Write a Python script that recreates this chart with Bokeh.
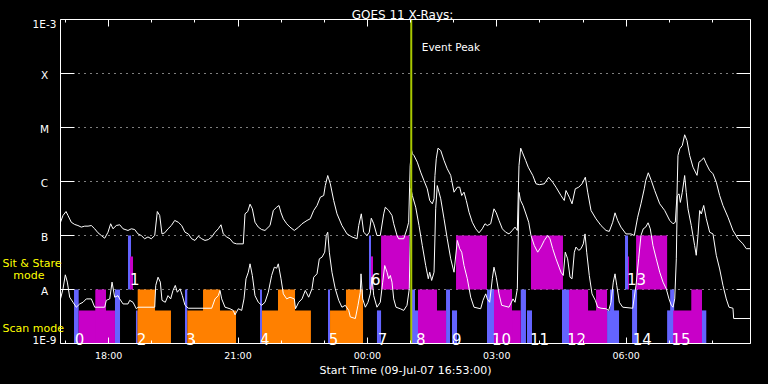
import datetime as dt
from bokeh.plotting import figure
from bokeh.models import (Range1d, FixedTicker, DatetimeAxis, LogAxis, Label,
                          DatetimeTickFormatter, ColumnDataSource)
from bokeh.core.properties import value
from bokeh.embed import file_html
from bokeh.resources import INLINE

START = dt.datetime(2007, 7, 9, 16, 53)
DURATION_MIN = 960
EVENT_MIN = 488

# GOES 11 long channel (1-8 A): minutes since start, flux W/m^2
long_min = [0, 3.5, 7.7, 10.4, 15.0, 19.8, 24.3, 28.9, 33.7, 38.3, 42.9, 47.6, 52.2, 56.8, 61.5,
            66.1, 69.8, 73.0, 77.6, 82.4, 87.0, 93.9, 98.5, 103.2, 107.8, 112.4, 117.1, 121.7,
            126.3, 131.1, 134.7, 138.0, 141.2, 145.0, 149.6, 154.2, 158.9, 163.9, 168.6, 173.2,
            177.8, 182.5, 187.1, 191.7, 196.5, 201.0, 205.6, 210.4, 215.0, 219.5, 223.3, 226.5,
            231.2, 235.8, 240.4, 245.1, 254.3, 256.7, 260.5, 263.7, 266.9, 270.6, 275.2, 279.9,
            284.5, 291.5, 296.1, 300.8, 304.0, 306.8, 310.0, 314.7, 319.3, 325.3, 331.4, 336.0,
            343.0, 347.5, 352.3, 356.9, 361.5, 366.2, 368.4, 371.8, 375.4, 380.1, 384.7, 391.6,
            398.6, 405.6, 412.5, 414.9, 418.5, 421.8, 426.4, 429.6, 432.4, 435.8, 440.3, 444.9,
            449.7, 451.9, 456.6, 461.2, 463.6, 468.2, 470.5, 477.5, 482.1, 484.4, 486.5, 488.5,
            489.5, 491.8, 496.4, 501.1, 505.7, 510.3, 513.7, 517.3, 519.7, 521.0, 522.8, 525.2,
            529.0, 533.6, 538.1, 542.9, 547.5, 552.1, 555.4, 558.2, 561.4, 564.6, 568.4, 572.9,
            577.7, 582.3, 586.8, 590.6, 593.8, 598.5, 603.1, 606.3, 610.1, 614.7, 619.4, 624.0,
            628.6, 632.4, 635.6, 637.9, 640.3, 642.5, 647.2, 650.8, 657.0, 661.6, 666.2, 673.1,
            679.2, 684.8, 689.4, 696.3, 700.9, 703.3, 707.9, 711.7, 716.2, 721.0, 725.6, 730.2,
            733.5, 738.1, 745.0, 752.0, 759.0, 763.5, 768.3, 771.5, 775.2, 779.8, 786.8, 793.7,
            798.3, 803.0, 807.6, 812.2, 814.2, 817.8, 822.0, 826.7, 833.7, 840.6, 847.6, 852.2,
            855.4, 857.7, 859.1, 861.5, 865.1, 868.4, 871.6, 875.4, 880.0, 885.6, 888.3, 891.5,
            894.9, 898.5, 903.2, 907.8, 912.4, 917.1, 921.7, 928.7, 935.6, 942.6, 949.5, 954.1,
            960]
long_flux = [1.76e-7, 2.35e-7, 2.78e-7, 2.35e-7, 1.76e-7, 1.60e-7, 1.53e-7, 1.43e-7, 1.49e-7,
             1.49e-7, 1.53e-7, 1.33e-7, 1.12e-7, 1.0e-7, 8.9e-8, 1.15e-7, 1.65e-7, 1.33e-7,
             1.53e-7, 1.58e-7, 1.33e-7, 1.24e-7, 1.33e-7, 1.29e-7, 1.07e-7, 1.0e-7, 8.7e-8,
             9.4e-8, 8.7e-8, 1.0e-7, 2.78e-7, 2.35e-7, 1.07e-7, 1.12e-7, 1.33e-7, 1.53e-7,
             1.90e-7, 1.76e-7, 1.53e-7, 1.15e-7, 1.07e-7, 8.7e-8, 8.1e-8, 9.7e-8, 8.7e-8, 8.1e-8,
             8.4e-8, 9.4e-8, 1.15e-7, 1.33e-7, 1.58e-7, 1.07e-7, 9.4e-8, 8.7e-8, 7.3e-8, 7.0e-8,
             7.0e-8, 2.52e-7, 2.78e-7, 3.80e-7, 3.12e-7, 1.76e-7, 1.43e-7, 1.29e-7, 1.24e-7,
             1.53e-7, 2.91e-7, 3.34e-7, 3.59e-7, 2.63e-7, 2.04e-7, 1.65e-7, 1.43e-7, 1.24e-7,
             1.43e-7, 1.65e-7, 1.90e-7, 2.04e-7, 2.91e-7, 3.59e-7, 5.12e-7, 5.50e-7, 8.43e-7,
             1.29e-6, 9.06e-7, 4.45e-7, 2.52e-7, 1.53e-7, 1.07e-7, 9.4e-8, 8.7e-8, 1.53e-7,
             2.52e-7, 1.15e-7, 1.0e-7, 1.15e-7, 2.09e-7, 1.65e-7, 1.0e-7, 1.0e-7, 2.52e-7,
             3.34e-7, 2.91e-7, 2.35e-7, 1.65e-7, 1.0e-7, 8.7e-8, 8.7e-8, 1.33e-7, 1.76e-7,
             1.98e-6, 3.75e-6, 3.26e-6, 3.03e-6, 2.28e-6, 1.49e-6, 1.04e-6, 7.33e-7, 4.45e-7,
             3.86e-7, 4.78e-7, 1.30e-6, 2.63e-6, 4.14e-6, 3.75e-6, 2.45e-6, 1.72e-6, 1.30e-6,
             6.34e-7, 7.84e-7, 7.84e-7, 5.50e-7, 6.34e-7, 4.45e-7, 2.70e-7, 1.76e-7, 1.33e-7,
             1.12e-7, 1.33e-7, 1.65e-7, 1.53e-7, 1.65e-7, 3.12e-7, 2.63e-7, 1.90e-7, 1.33e-7,
             1.15e-7, 1.07e-7, 1.24e-7, 1.43e-7, 1.24e-7, 1.98e-6, 4.14e-6, 3.49e-6, 2.45e-6,
             1.84e-6, 1.30e-6, 9.06e-7, 8.73e-7, 9.06e-7, 1.20e-6, 9.7e-7, 7.84e-7, 5.50e-7,
             4.45e-7, 6.81e-7, 5.12e-7, 3.86e-7, 7.33e-7, 7.84e-7, 9.06e-7, 1.20e-6, 6.34e-7,
             2.91e-7, 2.04e-7, 1.53e-7, 1.24e-7, 1.19e-7, 1.76e-7, 2.63e-7, 1.90e-7, 1.43e-7,
             1.07e-7, 1.07e-7, 1.0e-7, 2.18e-7, 3.86e-7, 7.33e-7, 1.04e-6, 1.45e-6, 1.04e-6,
             6.81e-7, 3.86e-7, 2.91e-7, 1.90e-7, 1.65e-7, 1.76e-7, 5.50e-7, 3.03e-6, 4.03e-6,
             4.64e-6, 7.33e-6, 5.74e-6, 3.03e-6, 1.84e-6, 1.30e-6, 2.28e-6, 2.45e-6, 2.75e-6,
             2.13e-6, 1.60e-6, 1.39e-6, 9.7e-7, 5.50e-7, 3.59e-7, 2.18e-7, 1.24e-7, 8.7e-8,
             7.0e-8, 5.7e-8, 5.7e-8]

# GOES 11 short channel (0.5-4 A)
short_min = [0, 3.5, 6.7, 9.5, 12.8, 17.4, 22.0, 26.7, 31.3, 35.9, 42.9, 47.6, 61.5, 63.7, 68.5,
             71.7, 75.4, 80.0, 82.4, 87.0, 93.9, 96.3, 100.9, 105.5, 107.8, 131.1, 132.5, 135.7,
             138.9, 141.2, 145.8, 149.6, 153.3, 156.5, 159.7, 162.5, 166.3, 169.5, 173.2, 177.8,
             210.4, 215.0, 219.5, 221.9, 224.3, 228.9, 235.8, 240.4, 242.8, 247.4, 252.1, 255.3,
             258.1, 261.3, 263.7, 266.9, 270.6, 275.2, 279.9, 284.5, 289.1, 293.8, 297.5, 300.8,
             303.0, 306.8, 310.0, 314.7, 319.3, 325.3, 327.0, 331.4, 336.0, 340.6, 345.3, 349.9,
             352.3, 356.9, 360.1, 363.8, 367.6, 369.8, 371.8, 374.0, 377.7, 382.3, 387.1, 391.6,
             396.2, 401.0, 403.2, 410.2, 413.9, 417.1, 418.1, 420.4, 424.1, 427.8, 431.0, 433.4,
             435.8, 440.3, 444.9, 448.3, 451.1, 454.3, 456.6, 458.9, 461.2, 463.6, 466.8, 472.8,
             477.5, 482.1, 485.3, 487.5, 489.5, 494.2, 498.8, 503.4, 508.1, 511.7, 513.7, 516.4,
             519.7, 522.0, 524.2, 529.0, 533.6, 538.1, 542.9, 547.5, 552.1, 555.4, 558.2, 561.4,
             566.0, 570.7, 575.3, 584.6, 587.8, 591.6, 593.8, 597.1, 600.8, 603.1, 606.3, 610.1,
             613.8, 624.0, 629.6, 632.4, 635.6, 637.9, 640.0, 643.5, 647.6, 651.4, 654.6, 659.2,
             663.9, 668.5, 673.1, 677.8, 681.0, 684.8, 689.4, 696.3, 699.5, 702.3, 705.6, 708.9,
             711.7, 714.9, 717.2, 721.0, 724.2, 727.4, 729.8, 732.1, 735.7, 739.5, 744.1, 747.4,
             752.0, 759.0, 762.7, 765.9, 769.1, 771.5, 773.9, 777.5, 782.2, 796.1, 800.7, 804.4,
             807.6, 810.8, 814.2, 817.5, 820.6, 824.3, 828.9, 833.7, 838.3, 842.8, 846.6, 849.8,
             852.2, 854.6, 856.8, 858.2, 860.6, 862.4, 865.1, 868.4, 870.6, 873.0, 877.6, 882.3,
             884.5, 886.9, 889.3, 891.5, 894.9, 898.5, 903.2, 907.8, 912.4, 917.1, 921.7, 926.3,
             930.1, 935.6, 936.6, 960]
short_flux = [6.7e-9, 1.03e-8, 1.87e-8, 1.37e-8, 7.2e-9, 5.8e-9, 4.7e-9, 5.4e-9, 5.8e-9, 6.7e-9,
              6.7e-9, 4.7e-9, 4.7e-9, 6.3e-9, 6.7e-9, 1.37e-8, 7.2e-9, 7.7e-9, 6.7e-9, 5.4e-9,
              5.4e-9, 6.3e-9, 5.8e-9, 4.4e-9, 4.7e-9, 4.7e-9, 1.19e-8, 1.69e-8, 1.37e-8, 6.3e-9,
              5.8e-9, 7.7e-9, 6.7e-9, 9.6e-9, 1.19e-8, 8.9e-9, 1.03e-8, 7.7e-9, 5.1e-9, 4.5e-9,
              4.5e-9, 6.7e-9, 7.7e-9, 9.6e-9, 6.7e-9, 4.7e-9, 4.4e-9, 4.1e-9, 3.4e-9, 4.4e-9,
              4.1e-9, 6.7e-9, 1.58e-8, 2.09e-8, 2.99e-8, 1.82e-8, 7.7e-9, 5.8e-9, 5.1e-9, 5.8e-9,
              8.9e-9, 1.82e-8, 2.59e-8, 2.48e-8, 2.99e-8, 1.58e-8, 8.3e-9, 6.7e-9, 7.2e-9, 6.7e-9,
              4.4e-9, 5.8e-9, 6.7e-9, 9.6e-9, 7.2e-9, 1.03e-8, 1.69e-8, 1.95e-8, 3.70e-8, 3.96e-8,
              4.91e-8, 1.0e-7, 1.15e-7, 4.91e-8, 2.09e-8, 1.03e-8, 6.3e-9, 4.7e-9, 5.1e-9, 4.1e-9,
              3.1e-9, 2.9e-9, 5.1e-9, 8.9e-9, 1.95e-8, 6.7e-9, 4.7e-9, 5.8e-9, 8.3e-9, 1.69e-8,
              7.7e-9, 4.7e-9, 5.8e-9, 1.37e-8, 2.78e-8, 2.09e-8, 1.58e-8, 1.82e-8, 1.37e-8,
              6.7e-9, 4.7e-9, 4.4e-9, 4.1e-9, 5.1e-9, 1.03e-8, 7.4e-7, 5.5e-7, 3.34e-7, 1.53e-7,
              6.5e-8, 2.78e-8, 1.58e-8, 2.09e-8, 1.47e-8, 2.09e-8, 3.12e-7, 8.4e-7, 4.78e-7,
              2.04e-7, 8.7e-8, 3.70e-8, 2.09e-8, 8.1e-8, 5.7e-8, 4.91e-8, 2.78e-8, 1.58e-8,
              7.2e-9, 4.7e-9, 4.4e-9, 6.3e-9, 8.3e-9, 6.7e-9, 5.8e-9, 1.58e-8, 2.59e-8, 1.69e-8,
              8.3e-9, 5.1e-9, 4.7e-9, 6.7e-9, 5.8e-9, 1.03e-8, 6.3e-7, 4.5e-7, 3.6e-7, 2.5e-7,
              1.76e-7, 1.0e-7, 6.5e-8, 4.91e-8, 6.1e-8, 8.1e-8, 1.0e-7, 8.7e-8, 5.7e-8, 3.7e-8,
              2.09e-8, 1.82e-8, 4.91e-8, 3.7e-8, 1.69e-8, 1.58e-8, 4.91e-8, 6.1e-8, 5.3e-8,
              5.7e-8, 7.0e-8, 1.07e-7, 4.91e-8, 1.82e-8, 8.3e-9, 6.3e-9, 4.7e-9, 4.5e-9, 4.4e-9,
              4.1e-9, 5.8e-9, 1.37e-8, 1.95e-8, 1.19e-8, 5.8e-9, 4.7e-9, 4.5e-9, 1.19e-8, 3.7e-8,
              1.0e-7, 1.33e-7, 1.43e-7, 1.72e-7, 1.33e-7, 6.5e-8, 3.7e-8, 2.09e-8, 1.37e-8,
              1.03e-8, 6.7e-9, 5.1e-9, 4.7e-9, 6.7e-9, 3.7e-8, 5.5e-7, 5.9e-7, 4.1e-7, 6.3e-7,
              1.29e-6, 6.3e-7, 3.12e-7, 1.53e-7, 6.5e-8, 4.3e-8, 1.0e-7, 2.9e-7, 2.5e-7, 3.6e-7,
              2.04e-7, 1.15e-7, 1.07e-7, 4.3e-8, 2.4e-8, 1.19e-8, 6.7e-9, 4.7e-9, 4.5e-9, 2.9e-9,
              2.9e-9]

# observation timeline blocks (minutes since start)
blk_start = [18.8, 25.3, 48.4, 75.8, 93.9, 96.7, 105.0, 107.4, 107.4, 173.2, 176.4, 198.3,
             277.6, 280.3, 302.6, 372.2, 375.0, 397.2, 429.2, 432.0, 446.0, 440.3, 487.7, 493.2,
             497.4, 497.4, 536.4, 544.7, 550.3, 593.4, 603.1, 603.1, 640.3, 649.0, 654.6, 697.7,
             707.5, 707.5, 745.1, 760.4, 764.6, 785.4, 789.6, 800.8, 795.2, 844.0, 848.2, 852.4,
             877.6, 891.5]
blk_end = [25.3, 75.8, 63.3, 82.8, 98.1, 100.9, 107.4, 153.7, 131.5, 176.4, 244.2, 221.9,
           280.3, 348.4, 326.3, 375.0, 420.9, 420.9, 432.0, 434.8, 484.9, 446.0, 493.2, 497.4,
           536.4, 523.8, 541.9, 551.7, 593.4, 603.1, 640.3, 628.2, 647.6, 656.0, 699.1, 707.5,
           760.4, 734.0, 760.4, 777.1, 770.2, 789.6, 791.0, 844.0, 802.2, 852.4, 853.8, 891.5,
           892.5, 898.5]
blk_color = ["blue", "magenta", "magenta", "blue", "blue", "magenta", "blue", "orange", "orange",
             "blue", "orange", "orange", "blue", "orange", "orange", "blue", "orange", "orange",
             "blue", "magenta", "magenta", "blue", "blue", "blue", "magenta", "magenta", "blue",
             "blue", "magenta", "blue", "magenta", "magenta", "blue", "blue", "magenta", "blue",
             "magenta", "magenta", "magenta", "blue", "blue", "blue", "magenta", "magenta", "blue",
             "blue", "blue", "magenta", "magenta", "blue"]
blk_kind = ["scan_full", "scan_low", "scan_full", "scan_full", "stare_full", "stare_low",
            "scan_low", "scan_low", "scan_full", "scan_full", "scan_low", "scan_full",
            "scan_full", "scan_low", "scan_full", "scan_full", "scan_low", "scan_full",
            "stare_full", "stare_low", "stare_full", "scan_low", "scan_full", "scan_low",
            "scan_low", "scan_full", "scan_full", "scan_low", "stare_full", "scan_full",
            "scan_low", "scan_full", "scan_full", "scan_low", "stare_full", "scan_full",
            "scan_low", "scan_full", "scan_full", "scan_low", "scan_full", "stare_full",
            "stare_low", "stare_full", "scan_full", "scan_low", "scan_full", "scan_low",
            "scan_full", "scan_low"]

obs_id = ["0", "1", "2", "3", "4", "5", "6", "7", "8", "9", "10", "11", "12", "13", "14", "15"]
obs_min = [19.8, 96.7, 106.0, 174.6, 277.6, 373.2, 432.0, 441.3, 494.6, 544.7, 600.3, 653.2,
           704.7, 788.2, 796.1, 850.0]
obs_band = ["scan", "stare", "scan", "scan", "scan", "scan", "stare", "scan", "scan", "scan",
            "scan", "scan", "scan", "stare", "scan", "scan"]

ytick_vals = [1e-9, 1e-8, 1e-7, 1e-6, 1e-5, 1e-4, 1e-3]
ytick_text = ["1E-9", "A", "B", "C", "M", "X", "1E-3"]
major_hours = ["2007-07-09 18:00", "2007-07-09 21:00", "2007-07-10 00:00",
               "2007-07-10 03:00", "2007-07-10 06:00"]

# ---- styling / layout constants ----
COLORS = {"blue": "#6464ff", "magenta": "#c800c8", "orange": "#ff8000"}
LEVELS = {"scan_full": (1e-9, 1e-8), "scan_low": (1e-9, 4.1e-9),
          "stare_full": (1e-8, 1e-7), "stare_low": (1e-8, 4.1e-8)}
LABEL_Y = {"scan": 1.19e-9, "stare": 1.58e-8}
FONT = "DejaVu Sans"
EPOCH = dt.datetime(1970, 1, 1)
W, H = 768, 384
BOX_L, BOX_R, BOX_T, BOX_B = 60, 750, 19, 343     # plot box inside the canvas (px)
YMIN, YMAX = 1e-9, 1e-3


def tm(m):
    return START + dt.timedelta(minutes=m)


def ms(d):
    return (d - EPOCH).total_seconds() * 1000.0


min_per_px = DURATION_MIN / (BOX_R - BOX_L)
px_per_dec = (BOX_B - BOX_T) / 6.0
x_lo = tm(-BOX_L * min_per_px)
x_hi = tm(DURATION_MIN + (W - BOX_R) * min_per_px)
y_lo = 10 ** (-9 - (H - BOX_B) / px_per_dec)
y_hi = 10 ** (-3 + BOX_T / px_per_dec)

t0, t1 = ms(tm(0)), ms(tm(DURATION_MIN))
major_ms = [ms(dt.datetime.strptime(s, "%Y-%m-%d %H:%M")) for s in major_hours]
first_hour = dt.datetime(2007, 7, 9, 17, 0)
minor_ms = [ms(first_hour + dt.timedelta(hours=h)) for h in range(16)]

p = figure(frame_width=W, frame_height=H, x_axis_type="datetime", y_axis_type="log",
           x_axis_location=None, y_axis_location=None, title=None,
           x_range=Range1d(x_lo, x_hi), y_range=Range1d(y_lo, y_hi),
           output_backend="svg", toolbar_location=None,
           background_fill_color="black", border_fill_color="black",
           min_border=0, outline_line_color=None)
p.grid.visible = False

# ---- x axes (bottom with labels, top ticks only) ----
xt = FixedTicker(ticks=major_ms, minor_ticks=minor_ms)
fmt = DatetimeTickFormatter(hours="%H:%M", hourmin="%H:%M", days="%H:%M", minutes="%H:%M")
bottom = DatetimeAxis(ticker=xt, formatter=fmt, fixed_location=YMIN, bounds=(t0, t1))
top = DatetimeAxis(ticker=xt, formatter=fmt, fixed_location=YMAX, bounds=(t0, t1))
for ax in (bottom, top):
    ax.axis_line_color = "white"
    ax.major_tick_line_color = "white"
    ax.minor_tick_line_color = "white"
    ax.major_tick_out = 0
    ax.minor_tick_out = 0
    ax.minor_tick_in = 3
    ax.major_label_text_font = FONT
bottom.major_tick_in = 6
bottom.major_label_text_color = "white"
bottom.major_label_text_font_size = "9.5px"
bottom.major_label_standoff = 6
bottom.axis_label = "Start Time (09-Jul-07 16:53:00)"
bottom.axis_label_text_color = "white"
bottom.axis_label_text_font = FONT
bottom.axis_label_text_font_size = "11px"
bottom.axis_label_text_font_style = "normal"
bottom.axis_label_standoff = 0
top.major_tick_in = 7
top.major_label_text_font_size = "1px"
top.major_label_text_color = None
top.major_label_standoff = 0
p.add_layout(bottom, "below")
p.add_layout(top, "above")

# ---- y axes (ticks only; labels are centred texts below) ----
yt = FixedTicker(ticks=ytick_vals, minor_ticks=[])
left = LogAxis(ticker=yt, fixed_location=t0, bounds=(YMIN, YMAX))
right = LogAxis(ticker=yt, fixed_location=t1, bounds=(YMIN, YMAX))
for ax in (left, right):
    ax.axis_line_color = "white"
    ax.major_tick_line_color = "white"
    ax.minor_tick_line_color = None
    ax.major_tick_in = 14
    ax.major_tick_out = 0
    ax.major_label_text_font_size = "1px"
    ax.major_label_text_color = None
    ax.major_label_standoff = 0
p.add_layout(left, "left")
p.add_layout(right, "right")

# dotted decade grid, only inside the box
grid_levels = ytick_vals[1:-1]
p.segment(x0=[tm(0)] * len(grid_levels), x1=[tm(DURATION_MIN)] * len(grid_levels),
          y0=grid_levels, y1=grid_levels, line_color="white", line_width=1,
          line_dash="1 5")

# ---- timeline blocks ----
def block_source(which):
    idx = [i for i, c in enumerate(blk_color) if (c == "blue") == (which == "blue")]
    return ColumnDataSource(dict(
        left=[tm(blk_start[i]) for i in idx],
        right=[tm(blk_end[i]) for i in idx],
        bottom=[LEVELS[blk_kind[i]][0] for i in idx],
        top=[LEVELS[blk_kind[i]][1] for i in idx],
        color=[COLORS[blk_color[i]] for i in idx]))

for which in ("blue", "other"):
    p.quad(left="left", right="right", bottom="bottom", top="top", fill_color="color",
           line_color=None, source=block_source(which))

# ---- GOES curves ----
p.line([tm(m) for m in long_min], long_flux, line_color="white", line_width=1)
p.line([tm(m) for m in short_min], short_flux, line_color="white", line_width=1)

# ---- observation numbers ----
p.text(x=[tm(m) for m in obs_min], y=[LABEL_Y[b] for b in obs_band], text=obs_id,
       text_color="white", text_font=value(FONT), text_font_size=value("15px"),
       text_align="left", text_baseline="alphabetic")

# ---- event peak ----
p.segment(x0=[tm(EVENT_MIN)], x1=[tm(EVENT_MIN)], y0=[YMIN], y1=[YMAX],
          line_color="#a8c800", line_width=2)
p.add_layout(Label(x=ms(tm(EVENT_MIN)), y=YMAX, x_offset=10.5, y_offset=-27.7,
                   text="Event Peak", text_color="white", text_font=FONT,
                   text_font_size="10.5px", text_align="left", text_baseline="alphabetic"))

# ---- title ----
p.add_layout(Label(x=ms(tm(DURATION_MIN / 2)), y=YMAX, x_offset=-3, y_offset=5,
                   text="GOES 11 X-Rays:", text_color="white", text_font=FONT,
                   text_font_size="12px", text_align="center", text_baseline="alphabetic"))

# ---- y tick labels (centred, as in the original) ----
for val, txt in zip(ytick_vals, ytick_text):
    off = -4 if val == YMAX else (3.5 if val == YMIN else -1)
    p.add_layout(Label(x=t0, y=val, x_offset=-16, y_offset=off, text=txt,
                       text_color="white", text_font=FONT, text_font_size="10.5px",
                       text_align="center", text_baseline="middle"))

# ---- mode labels ----
for txt, y, xo in (("Sit & Stare", 2.99e-8, -58), ("mode", 1.82e-8, -47.3),
                   ("Scan mode", 1.87e-9, -58)):
    p.add_layout(Label(x=t0, y=y, x_offset=xo, text=txt, text_color="#ffff00",
                       text_font=FONT, text_font_size="11px", text_align="left",
                       text_baseline="alphabetic"))

html = file_html(p, INLINE, title="GOES 11 X-Rays")
html = html.replace("</head>", "<style>html, body { background-color: #000000; }</style></head>", 1)
open("out.html", "w").write(html)
